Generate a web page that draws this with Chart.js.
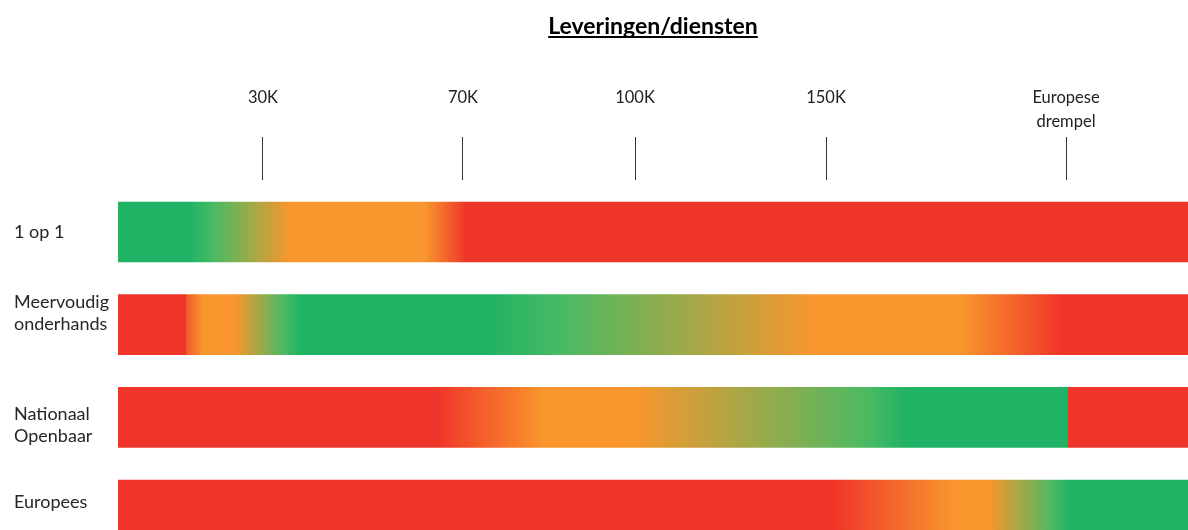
<!DOCTYPE html>
<html>
<head>
<meta charset="utf-8">
<script src="https://cdn.jsdelivr.net/npm/chart.js@4/dist/chart.umd.min.js"></script>
<style>
  html, body { margin: 0; padding: 0; background: #ffffff; }
  #wrap { width: 1188px; height: 530px; position: relative; }
</style>
</head>
<body>
<div id="wrap"><canvas id="c"></canvas></div>
<script>
// ---- data ----
const chartTitle = 'Leveringen/diensten';
const rowLabels = ['1 op 1', ['Meervoudig', 'onderhands'], ['Nationaal', 'Openbaar'], 'Europees'];
const rowIndex = [0, 1, 2, 3];

// threshold ticks on the schematic value axis (0 - 100)
const tickValues = [13.55, 32.24, 48.32, 66.17, 88.6];
const tickLabels = ['30K', '70K', '100K', '150K', ['Europese', 'drempel']];

// colour bands per procedure: stop positions on the value axis + rating at that stop
// G = green, L = light green, O = orange, M = orange-red, R = red
const row1Stops = [0, 6.73, 9.07, 16.07, 28.69, 32.62, 100];
const row1Rating = ['G', 'G', 'L', 'O', 'O', 'R', 'R'];
const row2Stops = [0, 6.36, 6.36, 7.94, 10.93, 15.33, 17.01, 34.77, 41.96, 65.05, 78.79, 88.22, 100];
const row2Rating = ['R', 'R', 'M', 'O', 'O', 'L', 'G', 'G', 'L', 'O', 'O', 'R', 'R'];
const row3Stops = [0, 29.63, 39.81, 48.22, 69.81, 73.55, 88.79, 88.79, 100];
const row3Rating = ['R', 'R', 'O', 'O', 'L', 'G', 'G', 'R', 'R'];
const row4Stops = [0, 66.73, 78.13, 81.31, 87.29, 88.79, 100];
const row4Rating = ['R', 'R', 'O', 'O', 'L', 'G', 'G'];

const barStart = [0, 0, 0, 0];
const barEnd = [100, 100, 100, 100];

// ---- styles ----
const palette = { G: '#21b365', L: '#4dba62', O: '#f9962d', M: '#f0572a', R: '#ef3429' };
const labelNudge = [0, -0.119, 0.086, -0.086];   // small vertical label offsets (style)
const allStops = [row1Stops, row2Stops, row3Stops, row4Stops];
const allRatings = [row1Rating, row2Rating, row3Rating, row4Rating];
const FONT = 'Lato, "Open Sans", sans-serif';
const TITLE_SIZE = 23;

function bandGradient(ctx) {
  const chart = ctx.chart;
  if (!chart.chartArea || ctx.dataIndex === undefined) return palette.R;
  const xs = chart.scales.x;
  const x0 = xs.getPixelForValue(xs.min);
  const x1 = xs.getPixelForValue(xs.max);
  const g = chart.ctx.createLinearGradient(x0, 0, x1, 0);
  const stops = allStops[ctx.dataIndex];
  const rating = allRatings[ctx.dataIndex];
  stops.forEach((s, i) => g.addColorStop(Math.min(1, Math.max(0, s / 100)), palette[rating[i]]));
  return g;
}

const underlinePlugin = {
  id: 'titleUnderline',
  afterDraw(chart) {
    const t = chart.titleBlock;
    if (!t) return;
    const c = chart.ctx;
    c.save();
    c.font = 'bold ' + TITLE_SIZE + 'px ' + FONT;
    const w = c.measureText(chartTitle).width;
    const cx = (t.left + t.right) / 2;
    const y = t.top + 36;
    c.fillStyle = '#000000';
    c.fillRect(cx - w / 2, y, w, 2);
    c.restore();
  }
};

new Chart(document.getElementById('c'), {
  type: 'bar',
  data: {
    datasets: [{
      data: rowIndex.map((r, i) => ({ y: r, x: [barStart[i], barEnd[i]] })),
      backgroundColor: bandGradient,
      borderWidth: 0,
      borderSkipped: false,
      barThickness: 60
    }]
  },
  options: {
    indexAxis: 'y',
    responsive: true,
    maintainAspectRatio: false,
    animation: false,
    events: [],
    layout: { padding: { left: 14, right: 0, top: 0, bottom: 0 } },
    plugins: {
      legend: { display: false },
      tooltip: { enabled: false },
      title: {
        display: true,
        text: chartTitle,
        fullSize: false,
        color: '#000000',
        font: { family: FONT, size: TITLE_SIZE, weight: 'bold', lineHeight: 1.2 },
        padding: { top: 13, bottom: 0 }
      }
    },
    scales: {
      x: {
        type: 'linear',
        position: 'top',
        min: 0,
        max: 100,
        offset: false,
        afterBuildTicks(scale) { scale.ticks = tickValues.map(v => ({ value: v })); },
        afterFit(scale) { scale.height = 180 - (13 + TITLE_SIZE * 1.2); scale.paddingLeft = 0; scale.paddingRight = 0; },
        ticks: {
          autoSkip: false,
          maxRotation: 0,
          crossAlign: 'far',
          padding: 3,
          color: '#222222',
          font: { family: FONT, size: 16.5, lineHeight: 24 / 16.5 },
          callback: (v, i) => tickLabels[i]
        },
        grid: {
          drawOnChartArea: false,
          drawTicks: true,
          tickLength: 43,
          tickColor: '#333333',
          tickWidth: 1
        },
        border: { display: false }
      },
      y: {
        type: 'linear',
        reverse: true,
        offset: false,
        min: -0.561,
        max: 3.216,
        afterBuildTicks(scale) { scale.ticks = rowIndex.map((v, i) => ({ value: v + labelNudge[i] })); },
        afterFit(scale) { scale.width = 104; scale.paddingTop = 0; scale.paddingBottom = 0; },
        ticks: {
          autoSkip: false,
          crossAlign: 'far',
          color: '#262626',
          font: { family: FONT, size: 18, lineHeight: 22 / 18 },
          callback: (v, i) => rowLabels[i]
        },
        grid: { display: false, offset: false },
        border: { display: false }
      }
    }
  },
  plugins: [underlinePlugin]
});
</script>
</body>
</html>
